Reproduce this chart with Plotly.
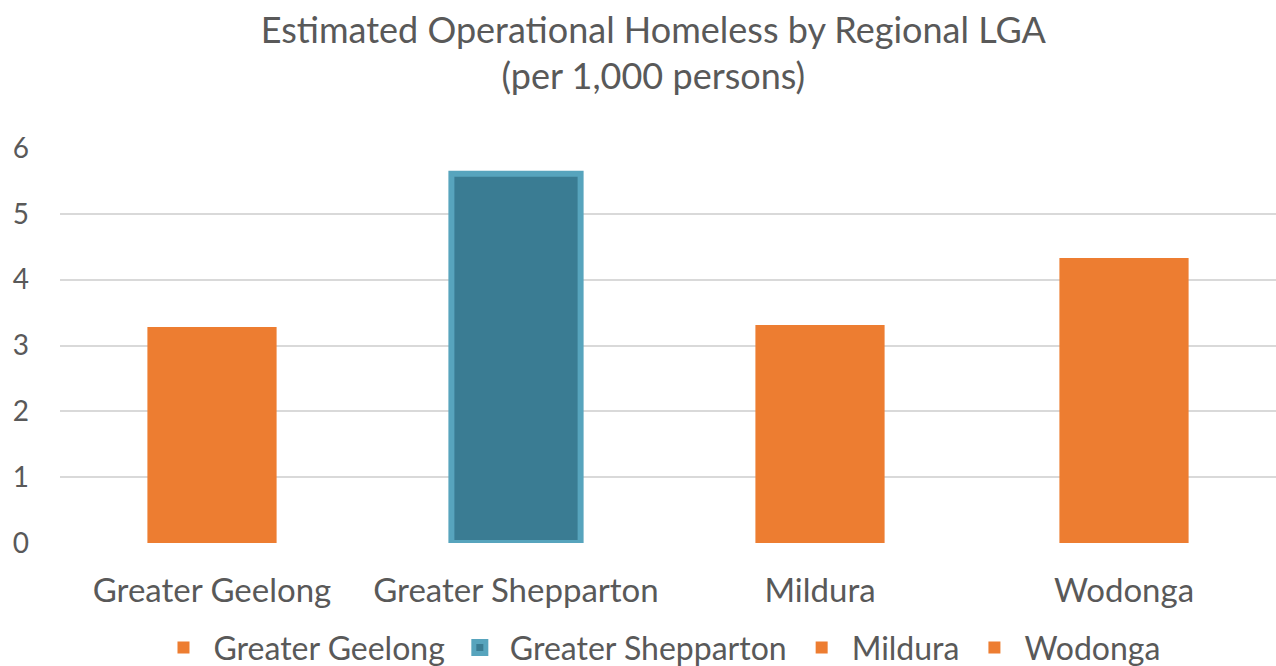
import plotly.graph_objects as go

categories = ["Greater Geelong", "Greater Shepparton", "Mildura", "Wodonga"]
values = [3.28, 5.61, 3.31, 4.33]
fill_colors = ["#ED7D31", "#3A7C93", "#ED7D31", "#ED7D31"]
line_colors = ["#ED7D31", "#57A4BD", "#ED7D31", "#ED7D31"]
line_widths = [0, 6, 0, 0]
y_ticks = [0, 1, 2, 3, 4, 5, 6]

FONT = "Lato"
GREY = "#595959"

fig = go.Figure()
for cat, val, fc, lc, lw in zip(categories, values, fill_colors, line_colors, line_widths):
    fig.add_trace(go.Bar(
        x=[cat], y=[val], name=cat,
        marker=dict(color=fc, line=dict(color=lc, width=lw)),
    ))

fig.update_layout(
    width=1276, height=666,
    barmode="overlay", bargap=0.575,
    paper_bgcolor="white", plot_bgcolor="white",
    margin=dict(l=60, r=0, t=148, b=123, autoexpand=False),
    title=dict(
        text="Estimated Operational Homeless by Regional LGA<br>(per 1,000 persons)",
        x=0.512, xanchor="center", y=0.936, yanchor="top",
        font=dict(family=FONT, size=36, color=GREY),
    ),
    font=dict(family=FONT, color=GREY),
    legend=dict(
        orientation="h", x=0.493, xanchor="center", y=-0.265, yanchor="middle",
        font=dict(family=FONT, size=32, color=GREY),
        itemwidth=50, traceorder="normal",
    ),
    xaxis=dict(
        showgrid=False, zeroline=False, showline=False, automargin=False,
        tickfont=dict(family=FONT, size=33, color=GREY), tickangle=0,
        ticklabelstandoff=25,
    ),
    yaxis=dict(
        range=[0, 6], tickvals=y_ticks, automargin=False,
        showgrid=True, gridcolor="#D9D9D9", gridwidth=2,
        zeroline=False, showline=False,
        tickfont=dict(family=FONT, size=28, color=GREY),
        ticklabelstandoff=30,
    ),
)

fig.write_html("out.html")
